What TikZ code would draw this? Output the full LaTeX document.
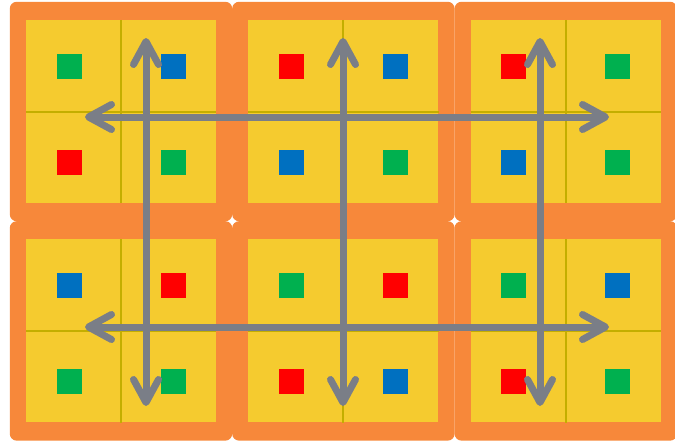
\documentclass[tikz,border=0pt]{standalone}
\usepackage{tikz}
\usetikzlibrary{arrows.meta,positioning,calc}

\definecolor{blockorange}{HTML}{F7883A}
\definecolor{cellyellow}{HTML}{F5CB2F}
\definecolor{lineyellow}{HTML}{C4AE00}
\definecolor{sqgreen}{HTML}{00B04F}
\definecolor{sqblue}{HTML}{0070C0}
\definecolor{sqred}{HTML}{FF0000}
\definecolor{arrowgray}{HTML}{7A7E87}

\begin{document}
\begin{tikzpicture}[
        x=1pt, y=-1pt,
        block/.style={rectangle, rounded corners=7pt, fill=blockorange, minimum width=222.5pt, minimum height=219.5pt, inner sep=0pt},
        panel/.style={rectangle, fill=cellyellow, minimum width=190pt, minimum height=183pt, inner sep=0pt},
        divider/.style={draw=lineyellow, line width=2pt},
        sq/.style={rectangle, minimum size=25pt, inner sep=0pt},
        arrow/.style={{Straight Barb[length=23pt, width=25pt, round]}-{Straight Barb[length=23pt, width=25pt, round]}, draw=arrowgray, line width=7pt, line cap=round}
    ]
        \useasboundingbox (0,0) rectangle (675,440);

        % Blocks
        \node[block] (b11) at (121,111.5) {};
        \node[block, right=-0.5pt of b11] (b12) {};
        \node[block, right=-0.5pt of b12] (b13) {};
        \node[block, below=-0.5pt of b11] (b21) {};
        \node[block, below=-0.5pt of b12] (b22) {};
        \node[block, below=-0.5pt of b13] (b23) {};

        % Panels
        \node[panel] (p11) at (b11) {};
        \node[panel] (p12) at (b12) {};
        \node[panel] (p13) at (b13) {};
        \node[panel] (p21) at (b21) {};
        \node[panel] (p22) at (b22) {};
        \node[panel] (p23) at (b23) {};

        % Dividers
        \draw[divider] (p11.north) -- (p11.south); \draw[divider] (p11.west) -- (p11.east);
        \draw[divider] (p12.north) -- (p12.south); \draw[divider] (p12.west) -- (p12.east);
        \draw[divider] (p13.north) -- (p13.south); \draw[divider] (p13.west) -- (p13.east);
        \draw[divider] (p21.north) -- (p21.south); \draw[divider] (p21.west) -- (p21.east);
        \draw[divider] (p22.north) -- (p22.south); \draw[divider] (p22.west) -- (p22.east);
        \draw[divider] (p23.north) -- (p23.south); \draw[divider] (p23.west) -- (p23.east);

        % Squares
        \node[sq, fill=sqgreen] (q11a) at ($(p11)+(-52,-45)$) {};
        \node[sq, fill=sqblue]  (q11b) at ($(p11)+(52,-45)$) {};
        \node[sq, fill=sqred]   (q11c) at ($(p11)+(-52,51)$) {};
        \node[sq, fill=sqgreen] (q11d) at ($(p11)+(52,51)$) {};

        \node[sq, fill=sqred]   (q12a) at ($(p12)+(-52,-45)$) {};
        \node[sq, fill=sqblue]  (q12b) at ($(p12)+(52,-45)$) {};
        \node[sq, fill=sqblue]  (q12c) at ($(p12)+(-52,51)$) {};
        \node[sq, fill=sqgreen] (q12d) at ($(p12)+(52,51)$) {};

        \node[sq, fill=sqred]   (q13a) at ($(p13)+(-52,-45)$) {};
        \node[sq, fill=sqgreen] (q13b) at ($(p13)+(52,-45)$) {};
        \node[sq, fill=sqblue]  (q13c) at ($(p13)+(-52,51)$) {};
        \node[sq, fill=sqgreen] (q13d) at ($(p13)+(52,51)$) {};

        \node[sq, fill=sqblue]  (q21a) at ($(p21)+(-52,-45)$) {};
        \node[sq, fill=sqred]   (q21b) at ($(p21)+(52,-45)$) {};
        \node[sq, fill=sqgreen] (q21c) at ($(p21)+(-52,51)$) {};
        \node[sq, fill=sqgreen] (q21d) at ($(p21)+(52,51)$) {};

        \node[sq, fill=sqgreen] (q22a) at ($(p22)+(-52,-45)$) {};
        \node[sq, fill=sqred]   (q22b) at ($(p22)+(52,-45)$) {};
        \node[sq, fill=sqred]   (q22c) at ($(p22)+(-52,51)$) {};
        \node[sq, fill=sqblue]  (q22d) at ($(p22)+(52,51)$) {};

        \node[sq, fill=sqgreen] (q23a) at ($(p23)+(-52,-45)$) {};
        \node[sq, fill=sqblue]  (q23b) at ($(p23)+(52,-45)$) {};
        \node[sq, fill=sqred]   (q23c) at ($(p23)+(-52,51)$) {};
        \node[sq, fill=sqgreen] (q23d) at ($(p23)+(52,51)$) {};

        % Arrow ends
        \coordinate (v1t) at (146,38);  \coordinate (v1b) at (146,406);
        \coordinate (v2t) at (343,38);  \coordinate (v2b) at (343,406);
        \coordinate (v3t) at (540,38);  \coordinate (v3b) at (540,406);
        \coordinate (h1l) at (85,117);  \coordinate (h1r) at (609,117);
        \coordinate (h2l) at (85,327);  \coordinate (h2r) at (609,327);

        % Arrows
        \draw[arrow] (h1l) -- (h1r);
        \draw[arrow] (h2l) -- (h2r);
        \draw[arrow] (v1t) -- (v1b);
        \draw[arrow] (v2t) -- (v2b);
        \draw[arrow] (v3t) -- (v3b);
    \end{tikzpicture}
\end{document}
